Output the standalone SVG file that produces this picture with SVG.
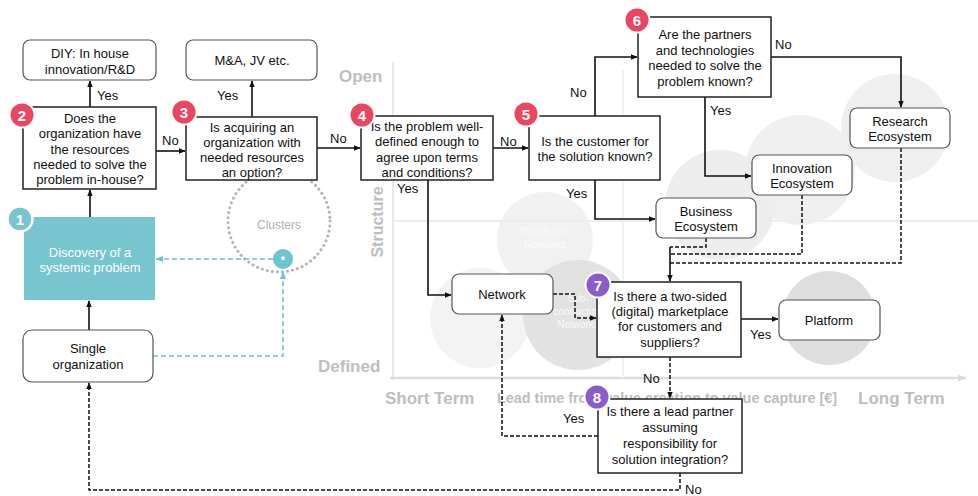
<svg xmlns="http://www.w3.org/2000/svg" width="978" height="496" viewBox="0 0 978 496">
<defs>
<marker id="ah" viewBox="0 0 10 10" refX="9" refY="5" markerWidth="7" markerHeight="7" orient="auto-start-reverse" markerUnits="userSpaceOnUse"><path d="M0,1 L10,5 L0,9 z" fill="#111"/></marker>
<marker id="aht" viewBox="0 0 10 10" refX="9" refY="5" markerWidth="8" markerHeight="8" orient="auto-start-reverse" markerUnits="userSpaceOnUse"><path d="M0,1 L10,5 L0,9 z" fill="#6EC4CF"/></marker>
<marker id="axa" viewBox="0 0 10 10" refX="9" refY="5" markerWidth="9" markerHeight="9" orient="auto" markerUnits="userSpaceOnUse"><path d="M0,1 L10,5 L0,9 z" fill="#DADADA"/></marker>
</defs>
<style>
text{font-family:"Liberation Sans",Arial,sans-serif}
.t{font-size:13px;fill:#111;text-anchor:middle}
.lbl{font-size:13px;fill:#111}
.box{fill:#fff;stroke:#222;stroke-width:1.5}
.rbox{fill:#fff;stroke:#555;stroke-width:1.2}
.ln{fill:none;stroke:#111;stroke-width:1.6}
.dl{fill:none;stroke:#111;stroke-width:1.5;stroke-dasharray:4 2}
.tl{fill:none;stroke:#6EC4CF;stroke-width:1.6;stroke-dasharray:5 3}
.bad{font-size:15px;font-weight:bold;fill:#fff;text-anchor:middle}
.ax{font-weight:bold;fill:#BEBEBE}
.red{fill:#EC4560}
.pur{fill:#8B5CCB}
.cl{font-size:10px;fill:#fff;text-anchor:middle;opacity:0.8}
</style>
<rect width="978" height="496" fill="#fff"/>
<g id="background">
<circle cx="895" cy="128" r="54" fill="#EFEFEF"/>
<circle cx="800" cy="170" r="55" fill="#EFEFEF"/>
<circle cx="720" cy="205" r="55" fill="#EDEDED"/>
<circle cx="545" cy="240" r="48" fill="#F1F1F1"/>
<circle cx="480" cy="318" r="50" fill="#F3F3F3"/>
<circle cx="578" cy="315" r="55" fill="#E2E2E2"/>
<circle cx="829" cy="318" r="47" fill="#DEDEDE"/>
<line x1="393" y1="380" x2="393" y2="62" stroke="#E8E8E8" stroke-width="2"/>
<line x1="390" y1="378" x2="966" y2="378" stroke="#DCDCDC" stroke-width="2.5" marker-end="url(#axa)"/>
<line x1="393" y1="221" x2="978" y2="221" stroke="#EDEDED" stroke-width="2"/>
<line x1="623" y1="70" x2="623" y2="378" stroke="#F1F1F1" stroke-width="2"/>
<text class="cl" x="545" y="235">Distribution</text>
<text class="cl" x="545" y="248">Networks</text>
<text class="cl" x="578" y="302">Sub-</text>
<text class="cl" x="578" y="315">contracting</text>
<text class="cl" x="578" y="328">Networks</text>
<text class="ax" x="339" y="82" font-size="17">Open</text>
<text class="ax" x="318" y="372" font-size="17">Defined</text>
<text class="ax" x="0" y="0" font-size="16" transform="translate(383,222) rotate(-90)" text-anchor="middle">Structure</text>
<text class="ax" x="385" y="404" font-size="17">Short Term</text>
<text class="ax" x="497" y="403" font-size="14.4" textLength="340" lengthAdjust="spacingAndGlyphs">Lead time from value creation to value capture [€]</text>
<text class="ax" x="858" y="404" font-size="17">Long Term</text>
<circle cx="279" cy="221" r="51" fill="none" stroke="#B5B5B5" stroke-width="3" stroke-dasharray="0.1 5" stroke-linecap="round"/>
<text x="279" y="229" font-size="12" fill="#AFAFAF" text-anchor="middle">Clusters</text>
</g>
<g id="connectors">
<line class="ln" x1="89" y1="330" x2="89" y2="301" marker-end="url(#ah)"/>
<line class="ln" x1="90" y1="217" x2="90" y2="190" marker-end="url(#ah)"/>
<line class="ln" x1="90" y1="107" x2="90" y2="81" marker-end="url(#ah)"/>
<line class="ln" x1="156" y1="151" x2="185" y2="151" marker-end="url(#ah)"/>
<line class="ln" x1="252" y1="117" x2="252" y2="81" marker-end="url(#ah)"/>
<line class="ln" x1="317" y1="148" x2="360" y2="148" marker-end="url(#ah)"/>
<line class="ln" x1="493" y1="148" x2="528" y2="148" marker-end="url(#ah)"/>
<polyline class="ln" points="595,116 595,57 637,57" marker-end="url(#ah)"/>
<polyline class="ln" points="595,180 595,219 655,219" marker-end="url(#ah)"/>
<polyline class="ln" points="428,180 428,295 451,295" marker-end="url(#ah)"/>
<polyline class="ln" points="771,57 901,57 901,107" marker-end="url(#ah)"/>
<polyline class="ln" points="705,97 705,176 751,176" marker-end="url(#ah)"/>
<polyline class="dl" points="706,238 706,247 670,247"/>
<polyline class="dl" points="802,195 802,254 670,254"/>
<polyline class="dl" points="901,148 901,263 670,263"/>
<line class="ln" x1="670" y1="247" x2="670" y2="281" marker-end="url(#ah)"/>
<polyline class="dl" points="553,294 575,294 575,318 596,318" marker-end="url(#ah)"/>
<line class="ln" x1="741" y1="319" x2="778" y2="319" marker-end="url(#ah)"/>
<line class="dl" x1="670" y1="357" x2="670" y2="398" marker-end="url(#ah)"/>
<polyline class="dl" points="598,436 502,436 502,315" marker-end="url(#ah)"/>
<polyline class="dl" points="680,473 680,490 89,490 89,383" marker-end="url(#ah)"/>
<polyline class="tl" points="153,356 283,356 283,272" marker-end="url(#aht)"/>
<line class="tl" x1="273" y1="259" x2="156" y2="259" marker-end="url(#aht)"/>
<text class="lbl" x="97" y="100">Yes</text>
<text class="lbl" x="162" y="145">No</text>
<text class="lbl" x="217" y="100">Yes</text>
<text class="lbl" x="330" y="143">No</text>
<text class="lbl" x="500" y="146">No</text>
<text class="lbl" x="570" y="97">No</text>
<text class="lbl" x="566" y="198">Yes</text>
<text class="lbl" x="397" y="193">Yes</text>
<text class="lbl" x="775" y="49">No</text>
<text class="lbl" x="710" y="115">Yes</text>
<text class="lbl" x="750" y="339">Yes</text>
<text class="lbl" x="643" y="383">No</text>
<text class="lbl" x="563" y="423">Yes</text>
<text class="lbl" x="685" y="494" font-size="12">No</text>
</g>
<g id="n-diy"><rect class="rbox" x="23" y="40" width="133" height="40" rx="7"/><text class="t" x="90" y="58">DIY: In house</text><text class="t" x="90" y="74">innovation/R&amp;D</text></g>
<g id="n-ma"><rect class="rbox" x="186" y="40" width="131" height="40" rx="7"/><text class="t" x="252" y="65">M&amp;A, JV etc.</text></g>
<g id="n-q2"><rect class="box" x="23" y="107" width="133" height="82"/><text class="t" x="90" y="123">Does the</text><text class="t" x="90" y="138">organization have</text><text class="t" x="90" y="154">the resources</text><text class="t" x="90" y="169">needed to solve the</text><text class="t" x="90" y="184">problem in-house?</text><circle class="red" cx="22" cy="115" r="12.5" stroke="#fff" stroke-width="2"/><text class="bad" x="22" y="120.5">2</text></g>
<g id="n-q3"><rect class="box" x="186" y="117" width="131" height="63"/><text class="t" x="252" y="132">Is acquiring an</text><text class="t" x="252" y="147">organization with</text><text class="t" x="252" y="162">needed resources</text><text class="t" x="252" y="177">an option?</text><circle class="red" cx="184" cy="112" r="12.5" stroke="#fff" stroke-width="2"/><text class="bad" x="184" y="117.5">3</text></g>
<g id="n-q4"><rect class="box" x="361" y="116" width="132" height="64"/><text class="t" x="427" y="131">Is the problem well-</text><text class="t" x="427" y="146">defined enough to</text><text class="t" x="427" y="162">agree upon terms</text><text class="t" x="427" y="177">and conditions?</text><circle class="red" cx="362" cy="115" r="12.5" stroke="#fff" stroke-width="2"/><text class="bad" x="362" y="120.5">4</text></g>
<g id="n-q5"><rect class="box" x="529" y="116" width="131" height="64"/><text class="t" x="595" y="146">Is the customer for</text><text class="t" x="595" y="161">the solution known?</text><circle class="red" cx="526" cy="114" r="12.5" stroke="#fff" stroke-width="2"/><text class="bad" x="526" y="119.5">5</text></g>
<g id="n-q6"><rect class="box" x="638" y="17" width="133" height="80"/><text class="t" x="705" y="39">Are the partners</text><text class="t" x="705" y="55">and technologies</text><text class="t" x="705" y="70">needed to solve the</text><text class="t" x="705" y="86">problem known?</text><circle class="red" cx="637" cy="20" r="12.5" stroke="#fff" stroke-width="2"/><text class="bad" x="637" y="25.5">6</text></g>
<g id="n-research"><rect class="rbox" x="850" y="108" width="100" height="40" rx="7"/><text class="t" x="900" y="126">Research</text><text class="t" x="900" y="141">Ecosystem</text></g>
<g id="n-innovation"><rect class="rbox" x="752" y="155" width="100" height="40" rx="7"/><text class="t" x="802" y="173">Innovation</text><text class="t" x="802" y="188">Ecosystem</text></g>
<g id="n-business"><rect class="rbox" x="656" y="198" width="100" height="40" rx="7"/><text class="t" x="706" y="216">Business</text><text class="t" x="706" y="231">Ecosystem</text></g>
<g id="n-network"><rect class="rbox" x="452" y="274" width="101" height="40" rx="7"/><text class="t" x="502" y="299">Network</text></g>
<g id="n-q7"><rect class="box" x="597" y="282" width="144" height="75"/><text class="t" x="670" y="301">Is there a two-sided</text><text class="t" x="670" y="316">(digital) marketplace</text><text class="t" x="670" y="331">for customers and</text><text class="t" x="670" y="347">suppliers?</text><circle class="pur" cx="598" cy="285" r="12.5" stroke="#fff" stroke-width="2"/><text class="bad" x="598" y="290.5">7</text></g>
<g id="n-platform"><rect class="rbox" x="779" y="300" width="101" height="40" rx="7"/><text class="t" x="829" y="325">Platform</text></g>
<g id="n-q8"><rect class="box" x="598" y="399" width="144" height="74"/><text class="t" x="670" y="416">Is there a lead partner</text><text class="t" x="670" y="432">assuming</text><text class="t" x="670" y="448">responsibility for</text><text class="t" x="670" y="464">solution integration?</text><circle class="pur" cx="597" cy="397" r="12.5" stroke="#fff" stroke-width="2"/><text class="bad" x="597" y="402.5">8</text></g>
<g id="n-discovery"><rect x="24" y="217" width="131" height="83" fill="#77C5CF"/><text class="t" x="90" y="257" style="fill:#fff">Discovery of a</text><text class="t" x="90" y="272" style="fill:#fff">systemic problem</text><circle cx="20" cy="219" r="12.5" fill="#77C5CF" stroke="#fff" stroke-width="2.5"/><text class="bad" x="20" y="224.5">1</text></g>
<g id="n-cluster-star"><circle cx="283" cy="259" r="10" fill="#6EC4CF"/><text x="283" y="264" font-size="11" fill="#fff" text-anchor="middle" font-weight="bold">*</text></g>
<g id="n-single"><rect class="rbox" x="23" y="330" width="130" height="52" rx="9"/><text class="t" x="88" y="353">Single</text><text class="t" x="88" y="369">organization</text></g>
</svg>
